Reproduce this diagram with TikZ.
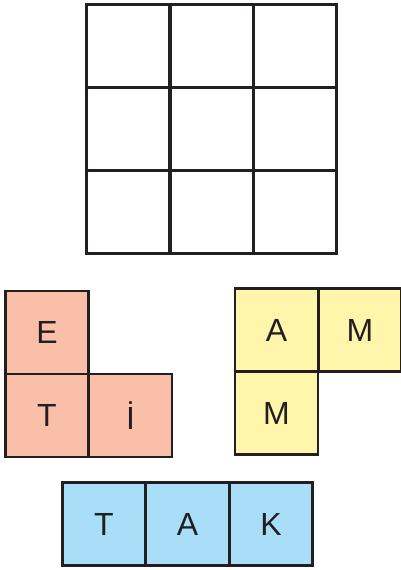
\documentclass[tikz,border=0pt]{standalone}
\usepackage{fontspec}
\setmainfont{Liberation Sans}
\definecolor{lineC}{HTML}{231F20}
\definecolor{orangeC}{HTML}{F9BFA8}
\definecolor{yellowC}{HTML}{FFF6AC}
\definecolor{blueC}{HTML}{A9DEF8}
\begin{document}
\begin{tikzpicture}[x=1pt,y=-1pt,
  cell/.style={draw=lineC,line width=2.6pt,minimum size=83.3pt,inner sep=0pt,outer sep=0pt,font=\fontsize{32}{36}\selectfont,text=lineC},
  gridcell/.style={cell,fill=white},
  ocell/.style={cell,fill=orangeC},
  ycell/.style={cell,fill=yellowC},
  bcell/.style={cell,fill=blueC}]
\useasboundingbox (0,0) rectangle (400,570);
% grid
\node[gridcell] (g11) at (128,46) {};
\node[gridcell] (g12) at (212,46) {};
\node[gridcell] (g13) at (295,46) {};
\node[gridcell] (g21) at (128,129) {};
\node[gridcell] (g22) at (212,129) {};
\node[gridcell] (g23) at (295,129) {};
\node[gridcell] (g31) at (128,212) {};
\node[gridcell] (g32) at (212,212) {};
\node[gridcell] (g33) at (295,212) {};
% orange
\node[ocell] (oe) at (47,332.5) {E};
\node[ocell] (ot) at (47,415.5) {T};
\node[ocell] (oi) at (130.5,415.5) {İ};
% yellow
\node[ycell] (ya) at (276.5,330) {A};
\node[ycell] (ym1) at (360,330) {M};
\node[ycell] (ym2) at (276.5,413) {M};
% blue
\node[bcell] (bt) at (104,524) {T};
\node[bcell] (ba) at (187.5,524) {A};
\node[bcell] (bk) at (271,524) {K};
\end{tikzpicture}
\end{document}
